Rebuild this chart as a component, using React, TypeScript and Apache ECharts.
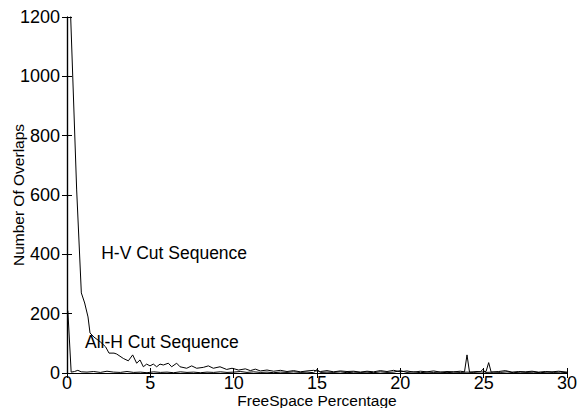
import React, { useEffect, useRef } from "react";
import * as echarts from "echarts";

const xTicks = [0, 5, 10, 15, 20, 25, 30];
const yTicks = [0, 200, 400, 600, 800, 1000, 1200];

const hvSeries: [number, number][] = [
  [0.2, 1235], [0.58, 617], [0.86, 270], [1.06, 236], [1.26, 189], [1.38, 135],
  [1.62, 121], [2.02, 104], [2.32, 88], [2.52, 67], [2.82, 67], [2.98, 64],
  [3.38, 49], [3.68, 41], [3.94, 61], [4.18, 33], [4.38, 44], [4.58, 21],
  [4.78, 30], [4.98, 24], [5.18, 30], [5.38, 21], [5.58, 30], [5.78, 27],
  [6.08, 33], [6.28, 21], [6.58, 33], [6.78, 21], [7.18, 16], [7.48, 24],
  [7.78, 16], [8.18, 19], [8.48, 24], [8.78, 16], [9.18, 21], [9.58, 12],
  [9.9, 16], [10.3, 10], [10.7, 14], [11.0, 8], [11.3, 13], [11.6, 7],
  [12.0, 10], [12.4, 6], [12.8, 9], [13.2, 5], [13.6, 8], [14.0, 4],
  [14.4, 7], [14.8, 9], [15.2, 5], [15.6, 8], [16.0, 4], [16.4, 7],
  [16.8, 5], [17.2, 6], [17.6, 3], [18.0, 6], [18.4, 4], [18.8, 8],
  [19.2, 5], [19.6, 9], [20.0, 4], [20.4, 7], [20.8, 3], [21.2, 6],
  [21.6, 4], [22.0, 7], [22.4, 3], [22.8, 5], [23.2, 4], [23.6, 6],
  [23.85, 4], [24.0, 61], [24.15, 3], [24.6, 5], [25.0, 3], [25.15, 6],
  [25.3, 35], [25.45, 3], [25.9, 5], [26.3, 8], [26.7, 3], [27.1, 5],
  [27.5, 4], [27.9, 6], [28.3, 3], [28.7, 5], [29.1, 4], [29.5, 6], [30.0, 3],
];

const allHSeries: [number, number][] = [
  [0.05, 210], [0.25, 3], [0.45, 5], [0.65, 9], [0.85, 4], [1.2, 3],
  [1.6, 5], [2.0, 2], [2.4, 6], [2.8, 3], [3.2, 2], [3.6, 5], [4.0, 2],
  [4.4, 3], [4.8, 1], [5.2, 4], [5.6, 2], [6.0, 3], [6.4, 1], [6.8, 4],
  [7.2, 2], [7.6, 3], [8.0, 1], [8.4, 3], [8.8, 2], [9.2, 4], [9.6, 2],
  [10.0, 3], [10.4, 5], [10.8, 2], [11.2, 4], [11.6, 2], [12.0, 3],
  [12.4, 1], [12.8, 3], [13.2, 2], [13.6, 4], [14.0, 2], [14.4, 3],
  [14.8, 1], [15.0, 12], [15.2, 2], [15.6, 3], [16.0, 2], [16.4, 4],
  [16.8, 1], [17.2, 3], [17.6, 2], [18.0, 3], [18.4, 1], [18.8, 4],
  [19.2, 2], [19.6, 3], [20.0, 8], [20.4, 2], [20.8, 4], [21.2, 1],
  [21.6, 3], [22.0, 2], [22.4, 3], [22.8, 1], [23.2, 3], [23.6, 2],
  [24.0, 3], [24.4, 2], [24.8, 4], [24.95, 12], [25.1, 2], [25.6, 3],
  [26.0, 2], [26.4, 4], [26.8, 1], [27.2, 3], [27.6, 2], [28.0, 3],
  [28.4, 1], [28.8, 3], [29.2, 2], [29.6, 3], [30.0, 1],
];

const labelHV = { text: "H-V Cut Sequence", x: 2.05, y: 404 };
const labelAllH = { text: "All-H Cut Sequence", x: 1.08, y: 104 };

const FONT = "Liberation Sans, Arial, Helvetica, sans-serif";

export default function App() {
  const ref = useRef<HTMLDivElement>(null);
  useEffect(() => {
    if (!ref.current) return;
    const chart = echarts.init(ref.current, undefined, { renderer: "svg" });
    const axisLine = { show: true, lineStyle: { color: "#000", width: 1.2 } };
    const tick = { show: true, inside: true, length: 5, lineStyle: { color: "#000", width: 1 } };
    const annLabel = (t: string) => ({
      show: true,
      formatter: t,
      position: "right",
      distance: 0,
      color: "#000",
      fontSize: 17.5,
      fontFamily: FONT,
    });
    chart.setOption({
      animation: false,
      backgroundColor: "#fff",
      textStyle: { fontFamily: FONT },
      grid: {
        left: 67,
        right: 13,
        top: 17,
        bottom: 35,
        containLabel: false,
        outerBoundsMode: "none",
      },
      xAxis: [
        {
          type: "value",
          min: xTicks[0],
          max: xTicks[xTicks.length - 1],
          interval: 5,
          position: "bottom",
          name: "FreeSpace Percentage",
          nameLocation: "middle",
          nameGap: 19,
          nameMoveOverlap: false,
          nameTextStyle: { color: "#000", fontSize: 15.5, fontFamily: FONT },
          axisLine,
          axisTick: tick,
          splitLine: { show: false },
          axisLabel: {
            color: "#000",
            fontSize: 18,
            margin: 1,
            fontFamily: FONT,
            formatter: (v: number) => String(v),
          },
        },
        {
          type: "value",
          min: xTicks[0],
          max: xTicks[xTicks.length - 1],
          interval: 5,
          position: "top",
          axisLine,
          axisTick: tick,
          splitLine: { show: false },
          axisLabel: { show: false },
        },
      ],
      yAxis: [
        {
          type: "value",
          min: yTicks[0],
          max: yTicks[yTicks.length - 1],
          interval: 200,
          position: "left",
          name: "Number Of Overlaps",
          nameLocation: "middle",
          nameGap: 41,
          nameMoveOverlap: false,
          nameRotate: 90,
          nameTextStyle: { color: "#000", fontSize: 15.5, fontFamily: FONT },
          axisLine,
          axisTick: tick,
          splitLine: { show: false },
          axisLabel: {
            color: "#000",
            fontSize: 18,
            margin: 7,
            fontFamily: FONT,
            formatter: (v: number) => String(v),
          },
        },
        {
          type: "value",
          min: yTicks[0],
          max: yTicks[yTicks.length - 1],
          interval: 200,
          position: "right",
          axisLine,
          axisTick: tick,
          splitLine: { show: false },
          axisLabel: { show: false },
        },
      ],
      series: [
        {
          type: "line",
          data: hvSeries,
          showSymbol: false,
          symbol: "none",
          clip: true,
          lineStyle: { color: "#000", width: 1 },
          markPoint: {
            symbol: "circle",
            symbolSize: 0,
            data: [
              { coord: [labelHV.x, labelHV.y], label: annLabel(labelHV.text) },
              { coord: [labelAllH.x, labelAllH.y], label: annLabel(labelAllH.text) },
            ],
          },
        },
        {
          type: "line",
          data: allHSeries,
          showSymbol: false,
          symbol: "none",
          clip: true,
          lineStyle: { color: "#000", width: 1 },
        },
      ],
    });
    return () => chart.dispose();
  }, []);
  return (
    <div
      ref={ref}
      style={{ position: "fixed", left: 0, top: 0, width: 580, height: 408 }}
    />
  );
}
